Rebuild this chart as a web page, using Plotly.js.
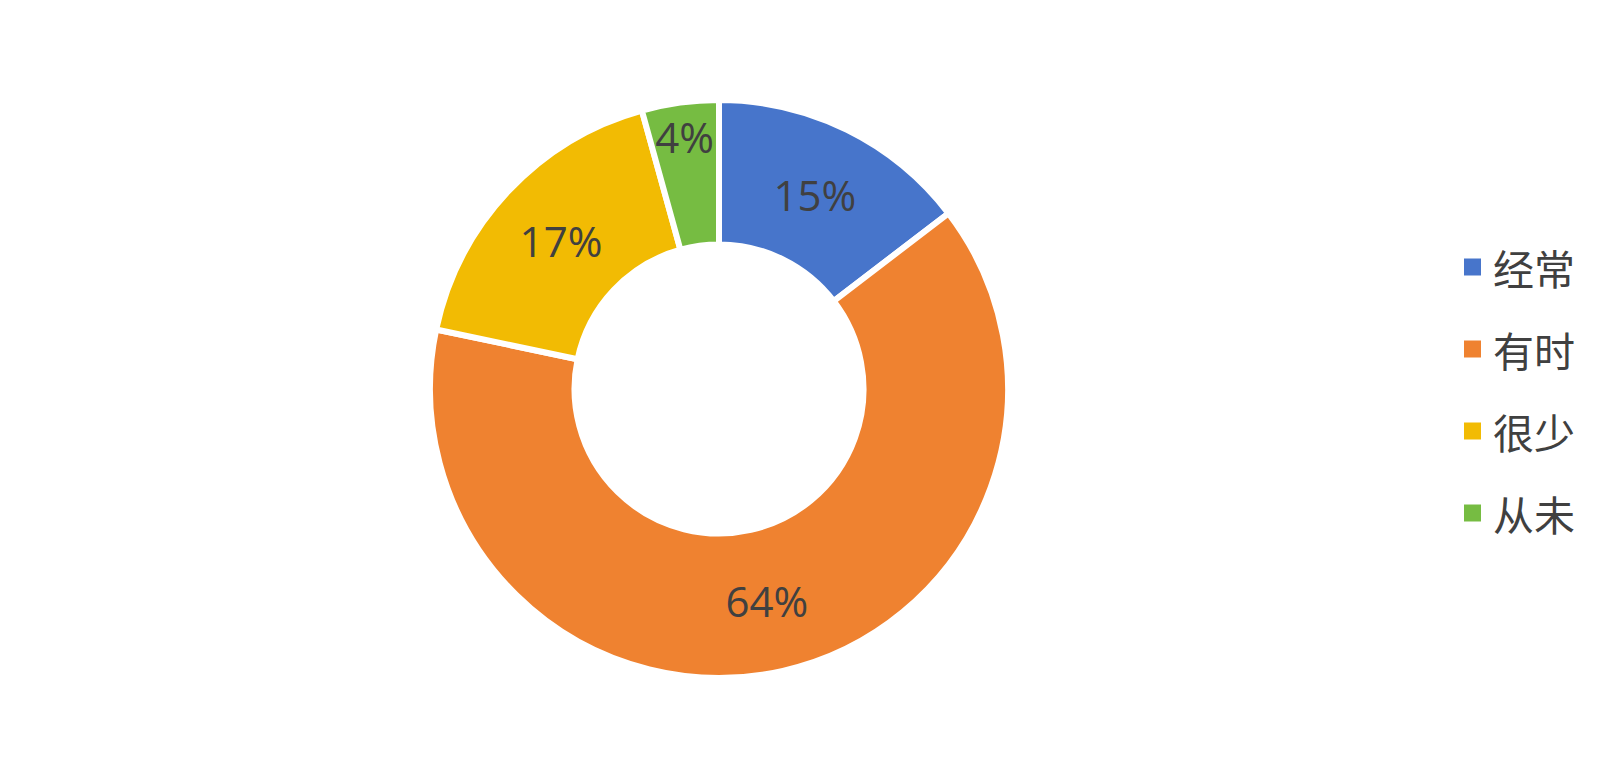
<!DOCTYPE html>
<html>
<head>
<meta charset="utf-8">
<script src="https://cdn.plot.ly/plotly-3.0.1.min.js"></script>
<style>html,body{margin:0;padding:0;background:#fff;}#chart{width:1624px;height:778px;}</style>
</head>
<body>
<div id="chart"></div>
<script>
const categories = ['经常', '有时', '很少', '从未'];
const values = [14.6, 63.7, 17.4, 4.3];
const colors = ['#4775CB', '#EF8230', '#F2BB03', '#76BC42'];

const W = 1624, H = 778;
const cx = 719, cy = 389, R = 289;
const fontFam = '"Open Sans", "Noto Sans CJK SC", sans-serif';

const trace = {
  type: 'pie',
  labels: categories,
  values: values,
  sort: false,
  direction: 'clockwise',
  rotation: 0,
  hole: 0.50,
  marker: {colors: colors, line: {color: '#ffffff', width: 6}},
  texttemplate: '%{percent:.0%}',
  textposition: 'inside',
  insidetextorientation: 'horizontal',
  textfont: {family: fontFam, size: 42, color: '#404040'},
  showlegend: false,
  hoverinfo: 'label+percent',
  domain: {
    x: [(cx - R) / W, (cx + R) / W],
    y: [1 - (cy + R) / H, 1 - (cy - R) / H]
  }
};

// legend drawn as shapes + annotations from the category arrays
const shapes = [], annotations = [];
const legX = 1464, legY0 = 267, legStep = 82, sq = 17;
categories.forEach((c, i) => {
  const y = legY0 + i * legStep;
  shapes.push({
    type: 'rect', xref: 'paper', yref: 'paper',
    x0: legX / W, x1: (legX + sq) / W,
    y0: 1 - (y + sq / 2) / H, y1: 1 - (y - sq / 2) / H,
    fillcolor: colors[i], line: {width: 0}
  });
  annotations.push({
    xref: 'paper', yref: 'paper', x: 1491 / W, y: 1 - y / H,
    xanchor: 'left', yanchor: 'middle', showarrow: false,
    text: c, font: {family: '"Noto Sans CJK SC", sans-serif', size: 41, color: '#404040'}
  });
});

const layout = {
  width: W, height: H,
  margin: {l: 0, r: 0, t: 0, b: 0},
  paper_bgcolor: '#ffffff',
  showlegend: false,
  uniformtext: {mode: 'show', minsize: 42},
  shapes: shapes,
  annotations: annotations
};

Plotly.newPlot('chart', [trace], layout, {displayModeBar: false});
</script>
</body>
</html>
